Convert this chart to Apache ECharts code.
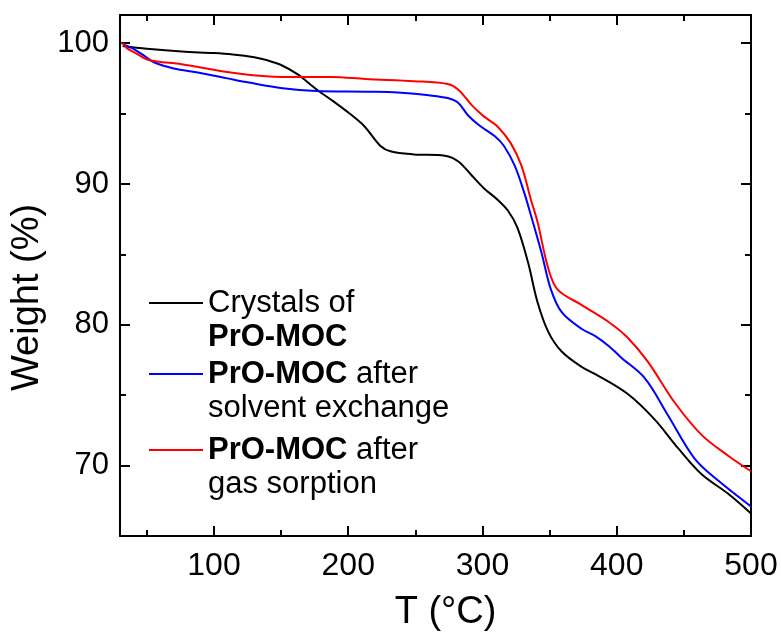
<!DOCTYPE html>
<html>
<head>
<meta charset="utf-8">
<script src="https://cdn.jsdelivr.net/npm/echarts@6/dist/echarts.min.js"></script>
<style>
  html, body { margin: 0; padding: 0; background: #fff; }
  #chart { width: 781px; height: 632px; }
</style>
</head>
<body>
<div id="chart"></div>
<script>
// TGA curves: temperature (°C) and remaining weight (%)
const crystalsT = [32, 50, 76, 100, 114, 130, 139, 150, 163, 170, 178, 187, 201, 212, 224, 232, 249, 272, 282, 292, 301, 311, 319, 326, 334, 341, 349, 359, 374, 384, 408, 428, 446, 463, 483, 500];
const crystalsW = [99.8, 99.6, 99.4, 99.3, 99.2, 99.0, 98.8, 98.45, 97.75, 97.2, 96.6, 96.0, 95.0, 94.1, 92.7, 92.3, 92.1, 92.0, 91.6, 90.6, 89.7, 88.9, 88.1, 86.9, 84.4, 81.6, 79.5, 78.1, 77.0, 76.5, 75.1, 73.3, 71.2, 69.4, 68.0, 66.6];

const solventT = [32, 35, 40, 46.6, 54, 59, 70, 89, 110, 126, 151, 176, 213, 237, 260, 274, 282, 289, 297, 309, 316, 324, 331, 336, 344, 351, 359, 374, 384, 394, 403, 421, 438, 458, 476, 500];
const solventW = [100, 99.8, 99.6, 99.2, 98.7, 98.5, 98.2, 97.9, 97.5, 97.2, 96.8, 96.6, 96.55, 96.5, 96.3, 96.1, 95.75, 94.9, 94.2, 93.4, 92.7, 91.3, 89.4, 87.8, 85.1, 82.5, 80.9, 79.7, 79.2, 78.5, 77.7, 76.2, 73.6, 70.5, 68.9, 67.1];

const sorptionT = [31, 33, 35, 41.6, 51.5, 76, 114, 151, 188, 213, 249, 274, 282, 292, 301, 311, 321, 329, 336, 341, 349, 356, 374, 394, 408, 423, 443, 463, 483, 500];
const sorptionW = [100, 99.9, 99.65, 99.3, 98.8, 98.5, 97.9, 97.6, 97.6, 97.45, 97.3, 97.1, 96.7, 95.6, 94.8, 94.1, 92.9, 91.3, 88.9, 87.3, 84.0, 82.5, 81.4, 80.2, 79.1, 77.4, 74.5, 72.2, 70.7, 69.6];

// Axis ticks
const xMajorTicks = [100, 200, 300, 400, 500];
const xMinorTicks = [50, 150, 250, 350, 450];
const yMajorTicks = [70, 80, 90, 100];
const yMinorTicks = [75, 85, 95];

const seriesNames = ['Crystals of PrO-MOC', 'PrO-MOC after solvent exchange', 'PrO-MOC after gas sorption'];
const legendLabels = {
  'Crystals of PrO-MOC': '\nCrystals of\n{b|PrO-MOC}',
  'PrO-MOC after solvent exchange': '\n{b|PrO-MOC} after\nsolvent exchange',
  'PrO-MOC after gas sorption': '\n{b|PrO-MOC} after\ngas sorption'
};
const seriesColors = ['#000000', '#0000ff', '#ff0000'];

const pairs = (ts, ws) => ts.map((t, i) => [t, ws[i]]);

const FONT = 'Liberation Sans, Arial, Helvetica, sans-serif';
const X_MIN = 30, X_MAX = 500, Y_MIN = 65, Y_MAX = 102;
const axisLineStyle = { color: '#000', width: 2 };

function xAxisDef(position, ticks, len, showLine, showLabel, extra) {
  return Object.assign({
    type: 'value', min: X_MIN, max: X_MAX, position: position,
    axisLine: { show: showLine, onZero: false, lineStyle: axisLineStyle },
    axisTick: { show: true, inside: true, length: len, customValues: ticks, lineStyle: { color: '#000', width: 2 } },
    axisLabel: { show: showLabel, customValues: ticks, color: '#000', fontSize: 32, fontFamily: FONT, margin: 14 },
    splitLine: { show: false }
  }, extra || {});
}
function yAxisDef(position, ticks, len, showLine, showLabel, extra) {
  return Object.assign({
    type: 'value', min: Y_MIN, max: Y_MAX, position: position,
    axisLine: { show: showLine, onZero: false, lineStyle: axisLineStyle },
    axisTick: { show: true, inside: true, length: len, customValues: ticks, lineStyle: { color: '#000', width: 2 } },
    axisLabel: { show: showLabel, customValues: ticks, color: '#000', fontSize: 31, fontFamily: FONT, margin: 11 },
    splitLine: { show: false }
  }, extra || {});
}

function legendDef(i, top) {
  return {
    data: [seriesNames[i]],
    left: 149, top: top,
    padding: 0,
    icon: 'rect',
    itemWidth: 54, itemHeight: 2, itemGap: 0,
    formatter: name => legendLabels[name],
    selectedMode: false,
    textStyle: {
      color: '#000', fontSize: 31, fontFamily: FONT, lineHeight: 34,
      rich: { b: { fontWeight: 'bold', fontSize: 31, fontFamily: FONT, lineHeight: 34, color: '#000' } }
    }
  };
}

const chart = echarts.init(document.getElementById('chart'), null, { renderer: 'canvas' });
chart.setOption({
  animation: false,
  backgroundColor: '#fff',
  grid: { left: 120, right: 30, top: 15, bottom: 96, containLabel: false, outerBoundsMode: 'none' },
  xAxis: [
    xAxisDef('bottom', xMajorTicks, 10, true, true, {
      name: 'T (°C)', nameLocation: 'middle', nameGap: 58,
      nameTextStyle: { color: '#000', fontSize: 38, fontFamily: FONT, padding: [0, 0, 0, 20] }
    }),
    xAxisDef('bottom', xMinorTicks, 6, false, false),
    xAxisDef('top', xMajorTicks, 10, true, false),
    xAxisDef('top', xMinorTicks, 6, false, false)
  ],
  yAxis: [
    yAxisDef('left', yMajorTicks, 10, true, true, {
      name: 'Weight (%)', nameLocation: 'middle', nameGap: 63,
      nameTextStyle: { color: '#000', fontSize: 38, fontFamily: FONT, padding: [0, 44, 0, 0] }
    }),
    yAxisDef('left', yMinorTicks, 6, false, false),
    yAxisDef('right', yMajorTicks, 10, true, false),
    yAxisDef('right', yMinorTicks, 6, false, false)
  ],
  legend: [legendDef(0, 252), legendDef(1, 323), legendDef(2, 399)],
  series: [
    { name: seriesNames[0], data: pairs(crystalsT, crystalsW) },
    { name: seriesNames[1], data: pairs(solventT, solventW) },
    { name: seriesNames[2], data: pairs(sorptionT, sorptionW) }
  ].map((s, i) => Object.assign({
    type: 'line', xAxisIndex: 0, yAxisIndex: 0,
    showSymbol: false, symbol: 'none', smooth: 0.35, clip: true,
    color: seriesColors[i],
    lineStyle: { color: seriesColors[i], width: 2 }
  }, s))
});
</script>
</body>
</html>
